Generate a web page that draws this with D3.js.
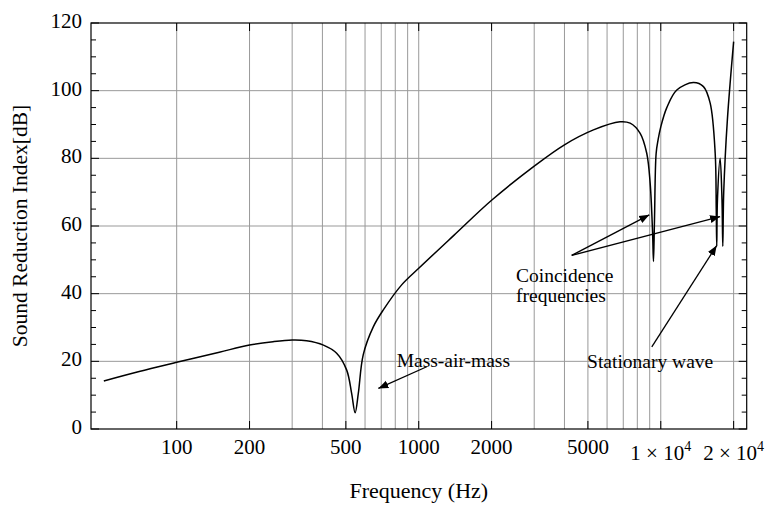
<!DOCTYPE html>
<html>
<head>
<meta charset="utf-8">
<script src="https://cdn.jsdelivr.net/npm/d3@7"></script>
<style>
  body { margin: 0; background: #fff; }
  text { font-family: "Liberation Serif", "Times New Roman", serif; fill: #000; }
</style>
</head>
<body>
<div id="chart"></div>
<script>
// frequency (Hz) and sound reduction index (dB)
const FREQ = [50, 70, 100, 150, 200, 250, 300, 344, 404, 458, 504, 528, 546, 563, 590, 649, 714, 850, 1000,
  1400, 2000, 3000, 4000, 5270, 6790, 7470, 8220, 8750, 9040, 9250, 9330, 9420, 9570, 9750, 10000, 10590,
  11650, 13640, 15010, 16000, 16780, 16950, 17030, 17150, 17590, 17900, 18040, 18200, 18840, 20000]
const SRI = [14.2, 17.0, 19.7, 22.7, 24.8, 25.8, 26.3, 26.1, 24.8, 22.4, 17.4, 10.6, 4.8, 10.6, 22.0, 30.2, 35.2, 42.6, 47.5,
  57.3, 67.6, 77.7, 84.0, 88.4, 90.8, 90.4, 87.4, 81.5, 72.6, 58.0, 49.5, 62.0, 81.5, 85.5, 89.3, 95.0,
  100.2, 102.4, 101.2, 96.3, 81.5, 65.0, 54.0, 68.0, 80.0, 68.0, 54.0, 70.0, 91.3, 114.5]

const X_TICKS = [100, 200, 500, 1000, 2000, 5000, 10000, 20000]
const X_LABELS = ["100", "200", "500", "1000", "2000", "5000", ["1", "4"], ["2", "4"]]
const X_GRID = [100, 200, 300, 400, 500, 600, 700, 800, 900, 1000, 2000, 3000, 4000, 5000, 6000, 7000, 8000, 9000, 10000, 20000]
const Y_TICKS = [0, 20, 40, 60, 80, 100, 120]
const Y_MINOR = d3.range(0, 121, 5)

// annotations, in data units: [freq, dB]
const NOTES = [
  { text: ["Mass-air-mass"], at: [811, 18.4] },
  { text: ["Coincidence", "frequencies"], at: [2523, 43.5] },
  { text: ["Stationary wave"], at: [4961, 18.0] }
]
const ARROWS = [
  [[1079, 18.4], [681, 12.0]],
  [[4285, 51.3], [8966, 63.3]],
  [[4285, 51.3], [17580, 62.8]],
  [[9180, 24.3], [17020, 54.2]]
]

const W = 767, H = 506
const PLOT = { LEFT: 91, RIGHT: 746.7, TOP: 23, BOTTOM: 429 }

const svg = d3.select("#chart").append("svg")
  .attr("width", W).attr("height", H)

const x = d3.scaleLog()
  .domain([Math.pow(10, 1.646), Math.pow(10, 4.355)])
  .range([PLOT.LEFT, PLOT.RIGHT])
const y = d3.scaleLinear()
  .domain([0, 120])
  .range([PLOT.BOTTOM, PLOT.TOP])

// grid
svg.append("g").selectAll("line")
  .data(X_GRID).enter().append("line")
    .attr("x1", d => x(d)).attr("x2", d => x(d))
    .attr("y1", PLOT.TOP).attr("y2", PLOT.BOTTOM)
    .attr("stroke", "#999").attr("stroke-width", 1)
svg.append("g").selectAll("line")
  .data(Y_TICKS.slice(1, -1)).enter().append("line")
    .attr("x1", PLOT.LEFT).attr("x2", PLOT.RIGHT)
    .attr("y1", d => y(d)).attr("y2", d => y(d))
    .attr("stroke", "#999").attr("stroke-width", 1)

// ticks inside the frame
const ticks = svg.append("g").attr("stroke", "#000").attr("stroke-width", 1)
X_TICKS.forEach(t => {
  ticks.append("line").attr("x1", x(t)).attr("x2", x(t)).attr("y1", PLOT.BOTTOM).attr("y2", PLOT.BOTTOM - 8)
  ticks.append("line").attr("x1", x(t)).attr("x2", x(t)).attr("y1", PLOT.TOP).attr("y2", PLOT.TOP + 8)
})
Y_MINOR.forEach(t => {
  const len = t % 20 === 0 ? 8 : 5
  ticks.append("line").attr("x1", PLOT.LEFT).attr("x2", PLOT.LEFT + len).attr("y1", y(t)).attr("y2", y(t))
  ticks.append("line").attr("x1", PLOT.RIGHT).attr("x2", PLOT.RIGHT - len).attr("y1", y(t)).attr("y2", y(t))
})

// frame
svg.append("rect")
  .attr("x", PLOT.LEFT).attr("y", PLOT.TOP)
  .attr("width", PLOT.RIGHT - PLOT.LEFT).attr("height", PLOT.BOTTOM - PLOT.TOP)
  .attr("fill", "none").attr("stroke", "#000").attr("stroke-width", 1.2)

// tick labels
svg.append("g").selectAll("text")
  .data(Y_TICKS).enter().append("text")
    .attr("x", PLOT.LEFT - 9)
    .attr("y", d => y(d) + 5)
    .attr("text-anchor", "end")
    .attr("font-size", 21)
    .text(d => d)

X_TICKS.forEach((t, i) => {
  const lab = X_LABELS[i]
  const txt = svg.append("text")
    .attr("x", x(t))
    .attr("text-anchor", "middle")
    .attr("font-size", 21)
  if (typeof lab === "string") {
    txt.attr("y", PLOT.BOTTOM + 25).text(lab)
  } else {
    txt.attr("y", PLOT.BOTTOM + 31)
    txt.append("tspan").text(lab[0] + " \u00d7 10")
    txt.append("tspan").attr("dy", -9).attr("font-size", 14).text(lab[1])
  }
})

// axis titles
svg.append("text")
  .attr("x", (PLOT.LEFT + PLOT.RIGHT) / 2)
  .attr("y", 498)
  .attr("text-anchor", "middle")
  .attr("font-size", 22)
  .text("Frequency (Hz)")

svg.append("text")
  .attr("transform", `translate(27, ${(PLOT.TOP + PLOT.BOTTOM) / 2}) rotate(-90)`)
  .attr("text-anchor", "middle")
  .attr("font-size", 21.5)
  .text("Sound Reduction Index[dB]")

// curve
const line = d3.line()
  .x(d => x(d[0]))
  .y(d => y(d[1]))
  .curve(d3.curveCatmullRom.alpha(0.5))

svg.append("path")
  .datum(d3.zip(FREQ, SRI))
  .attr("d", line)
  .attr("fill", "none")
  .attr("stroke", "#000")
  .attr("stroke-width", 1.5)

// annotations
svg.append("defs").append("marker")
  .attr("id", "head")
  .attr("viewBox", "0 0 10 10")
  .attr("refX", 10).attr("refY", 5)
  .attr("markerWidth", 10).attr("markerHeight", 10)
  .attr("markerUnits", "userSpaceOnUse")
  .attr("orient", "auto")
  .append("path").attr("d", "M0,1 L10,5 L0,9 Z").attr("fill", "#000")

svg.append("g").selectAll("line")
  .data(ARROWS).enter().append("line")
    .attr("x1", d => x(d[0][0])).attr("y1", d => y(d[0][1]))
    .attr("x2", d => x(d[1][0])).attr("y2", d => y(d[1][1]))
    .attr("stroke", "#000").attr("stroke-width", 1.3)
    .attr("marker-end", "url(#head)")

NOTES.forEach(n => {
  const t = svg.append("text")
    .attr("x", x(n.at[0]))
    .attr("y", y(n.at[1]))
    .attr("font-size", 19.5)
  n.text.forEach((s, i) => {
    t.append("tspan").attr("x", x(n.at[0])).attr("dy", i === 0 ? 0 : 20.5).text(s)
  })
})
</script>
</body>
</html>
